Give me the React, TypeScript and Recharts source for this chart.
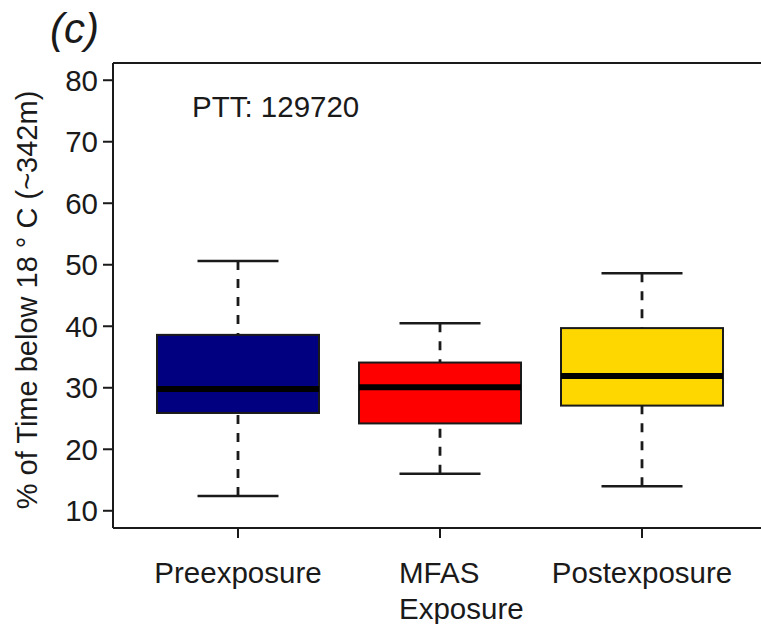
import React from 'react';
import { ComposedChart, Bar, XAxis, YAxis, ReferenceLine } from 'recharts';

const categories = ['Preexposure', 'MFAS\nExposure', 'Postexposure'];
const whiskerLow = [12.4, 16.0, 14.0];
const quartile1 = [25.9, 24.2, 27.1];
const medians = [29.8, 30.1, 31.9];
const quartile3 = [38.6, 34.1, 39.7];
const whiskerHigh = [50.6, 40.5, 48.6];
const boxColors = ['#000080', '#FF0000', '#FFD700'];
const yTicks = [10, 20, 30, 40, 50, 60, 70, 80];
const yDomain = [7.2, 82.8];
const panelLabel = '(c)';
const annotation = 'PTT: 129720';
const yAxisTitle = '% of Time below 18 ° C (~342m)';

const data = categories.map((name, i) => ({
  name,
  low: whiskerLow[i],
  q1: quartile1[i],
  median: medians[i],
  q3: quartile3[i],
  high: whiskerHigh[i],
  fill: boxColors[i],
}));

const FONT = '"Liberation Sans", Arial, Helvetica, sans-serif';
const INK = '#1a1a1a';

function BoxShape(props: any) {
  const { x, y, width, height, payload } = props;
  const { low, q1, median, q3, high, fill } = payload;
  const top = Math.min(y, y + height);
  const h = Math.abs(height);
  const py = (v: number) => top + ((high - v) / (high - low)) * h;
  const cx = x + width / 2;
  const capHalf = width / 4;
  return (
    <g>
      <line x1={cx} x2={cx} y1={py(high)} y2={py(q3)} stroke={INK} strokeWidth={2.8} strokeDasharray="9 9" />
      <line x1={cx} x2={cx} y1={py(low)} y2={py(q1)} stroke={INK} strokeWidth={2.8} strokeDasharray="9 9" />
      <line x1={cx - capHalf} x2={cx + capHalf} y1={py(high)} y2={py(high)} stroke={INK} strokeWidth={2.5} />
      <line x1={cx - capHalf} x2={cx + capHalf} y1={py(low)} y2={py(low)} stroke={INK} strokeWidth={2.5} />
      <rect x={x} y={py(q3)} width={width} height={py(q1) - py(q3)} fill={fill} stroke={INK} strokeWidth={2} />
      <line x1={x} x2={x + width} y1={py(median)} y2={py(median)} stroke="#000" strokeWidth={6} />
    </g>
  );
}

function XTick(props: any) {
  const { x, y, payload } = props;
  const lines = String(payload.value).split('\n');
  const multi = lines.length > 1;
  return (
    <text
      x={multi ? x - 41 : x}
      y={y + 43}
      textAnchor={multi ? 'start' : 'middle'}
      fontFamily={FONT}
      fontSize={29.5}
      fill={INK}
    >
      {lines.map((l, i) => (
        <tspan key={i} x={multi ? x - 41 : x} dy={i === 0 ? 0 : 36}>
          {l}
        </tspan>
      ))}
    </text>
  );
}

function YTick(props: any) {
  const { x, y, payload } = props;
  return (
    <text x={x} y={y} dy="0.36em" textAnchor="end" fontFamily={FONT} fontSize={29.5} fill={INK}>
      {payload.value}
    </text>
  );
}

export default function App() {
  return (
    <div style={{ position: 'fixed', left: 0, top: 0, width: 761, height: 624, overflow: 'hidden', background: '#fff' }}>
      <ComposedChart
        width={800}
        height={624}
        data={data}
        margin={{ top: 63, right: 33, left: 13, bottom: 0 }}
      >
        <XAxis
          dataKey="name"
          height={96}
          padding={{ left: 24, right: 24 }}
          tickSize={10}
          tickMargin={2}
          axisLine={{ stroke: INK, strokeWidth: 2 }}
          tickLine={{ stroke: INK, strokeWidth: 2 }}
          tick={<XTick />}
          interval={0}
        />
        <YAxis
          type="number"
          domain={yDomain}
          ticks={yTicks}
          width={100}
          tickSize={10}
          tickMargin={5}
          axisLine={{ stroke: INK, strokeWidth: 2 }}
          tickLine={{ stroke: INK, strokeWidth: 2 }}
          tick={<YTick />}
          allowDataOverflow
        />
        <ReferenceLine y={yDomain[1]} stroke={INK} strokeWidth={2} ifOverflow="visible" />
        <Bar
          dataKey={(d: any) => [d.low, d.high]}
          barSize={162}
          shape={<BoxShape />}
          isAnimationActive={false}
        />
      </ComposedChart>
      <svg width={761} height={624} style={{ position: 'absolute', left: 0, top: 0, pointerEvents: 'none' }}>
        <text x={50} y={43} fontFamily={FONT} fontStyle="italic" fontSize={42} fill={INK}>
          {panelLabel}
        </text>
        <text x={192} y={117} fontFamily={FONT} fontSize={29.5} fill={INK}>
          {annotation}
        </text>
        <text
          transform="translate(37,300) rotate(-90)"
          textAnchor="middle"
          fontFamily={FONT}
          fontSize={29}
          fill={INK}
        >
          {yAxisTitle}
        </text>
      </svg>
    </div>
  );
}
